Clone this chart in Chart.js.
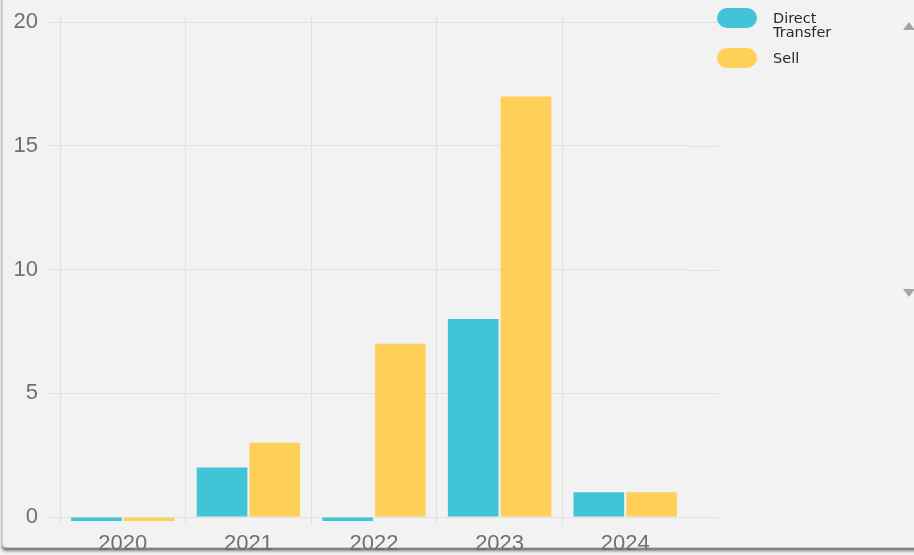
<!DOCTYPE html>
<html>
<head>
<meta charset="utf-8">
<script src="https://cdn.jsdelivr.net/npm/chart.js@4/dist/chart.umd.min.js"></script>
<style>
  html, body { margin: 0; padding: 0; width: 914px; height: 555px; overflow: hidden; background: #f2f2f2; }
  #card { position: absolute; left: 2px; top: -10px; width: 930px; height: 558px; box-sizing: border-box;
          border: 1px solid #cdcdcd; border-radius: 4px; background: #f2f2f2;
          box-shadow: 0 3px 3px rgba(0,0,0,0.5); }
  #wrap { position: absolute; left: 0; top: 0; width: 730px; height: 555px; }
  #legend { position: absolute; left: 717px; top: 8px; font-family: "DejaVu Sans", sans-serif; font-size: 14.5px; line-height: 14px; color: #2a2a2a; }
  .item { position: relative; height: 40px; }
  .pill { position: absolute; left: 0; top: 0; width: 40px; height: 20px; border-radius: 10px; }
  .lbl { position: absolute; left: 56px; top: 3px; width: 70px; }
  #sb { position: absolute; left: 893px; top: 9px; width: 30px; height: 301px; background: #f4f4f4; }
  .up { position: absolute; left: 903px; top: 22px; width: 0; height: 0; border-left: 6px solid transparent; border-right: 6px solid transparent; border-bottom: 8px solid #a5a5a5; }
  .down { position: absolute; left: 903px; top: 289px; width: 0; height: 0; border-left: 6px solid transparent; border-right: 6px solid transparent; border-top: 8px solid #a5a5a5; }
</style>
</head>
<body>
<div id="card"></div>
<div id="wrap"><canvas id="c" width="730" height="555"></canvas></div>
<div id="legend"></div>
<div id="sb"></div>
<div class="up"></div>
<div class="down"></div>
<script>
const categories = ["2020", "2021", "2022", "2023", "2024"];
const seriesNames = ["Direct Transfer", "Sell"];
const legendLabels = ["Direct<br>Transfer", "Sell"];
const directTransfer = [0, 2, 0, 8, 1];
const sell = [0, 3, 7, 17, 1];
const yTicks = [0, 5, 10, 15, 20];
const colors = ["#40c4d6", "#ffd058"];

const gridColor = "#e1e1e1";

// legend (HTML)
const legendEl = document.getElementById("legend");
seriesNames.forEach((name, i) => {
  const it = document.createElement("div");
  it.className = "item";
  it.innerHTML = '<div class="pill" style="background:' + colors[i] + '"></div><div class="lbl">' + legendLabels[i] + '</div>';
  legendEl.appendChild(it);
});

const zeroStubs = {
  id: "zeroStubs",
  afterDatasetsDraw(chart) {
    const ctx = chart.ctx;
    const y0 = chart.scales.y.getPixelForValue(0);
    chart.data.datasets.forEach((ds, di) => {
      const meta = chart.getDatasetMeta(di);
      ds.data.forEach((v, i) => {
        if (v === 0) {
          const el = meta.data[i];
          ctx.save();
          ctx.fillStyle = ds.backgroundColor;
          ctx.fillRect(el.x - el.width / 2, y0 + 0.5, el.width, 3.5);
          ctx.restore();
        }
      });
    });
  }
};

const extendGrid = {
  id: "extendGrid",
  beforeDatasetsDraw(chart) {
    const ctx = chart.ctx;
    const ys = chart.scales.y;
    const r = chart.chartArea.right;
    ctx.save();
    ctx.strokeStyle = gridColor;
    ctx.lineWidth = 1;
    ys.ticks.forEach(t => {
      const y = Math.round(ys.getPixelForValue(t.value)) + 0.5;
      ctx.beginPath();
      ctx.moveTo(r, y);
      ctx.lineTo(r + 30, y);
      ctx.stroke();
    });
    ctx.restore();
  }
};

new Chart(document.getElementById("c"), {
  type: "bar",
  data: {
    labels: categories,
    datasets: [
      { label: seriesNames[0], data: directTransfer, backgroundColor: colors[0] },
      { label: seriesNames[1], data: sell, backgroundColor: colors[1] }
    ]
  },
  options: {
    responsive: false,
    animation: false,
    categoryPercentage: 0.84,
    barPercentage: 0.96,
    layout: { padding: { top: 16, left: 0, right: 42, bottom: 0 } },
    plugins: { legend: { display: false }, tooltip: { enabled: false } },
    scales: {
      x: {
        grid: {
          offset: true,
          color: (c) => (c.type === "tick" ? gridColor : "rgba(0,0,0,0)"),
          tickLength: 8
        },
        border: { display: false },
        ticks: { color: "#707070", font: { family: "Liberation Sans", size: 22 }, padding: 6 },
        afterFit: (s) => { s.height = 38; }
      },
      y: {
        min: 0,
        max: 20.25,
        afterBuildTicks: (s) => { s.ticks = yTicks.map(v => ({ value: v })); },
        grid: { color: gridColor, tickLength: 12 },
        border: { display: false },
        ticks: { color: "#707070", font: { family: "Liberation Sans", size: 22, lineHeight: 0.5 }, padding: 10 },
        afterFit: (s) => { s.width = 60; }
      }
    }
  },
  plugins: [zeroStubs, extendGrid]
});
</script>
</body>
</html>
